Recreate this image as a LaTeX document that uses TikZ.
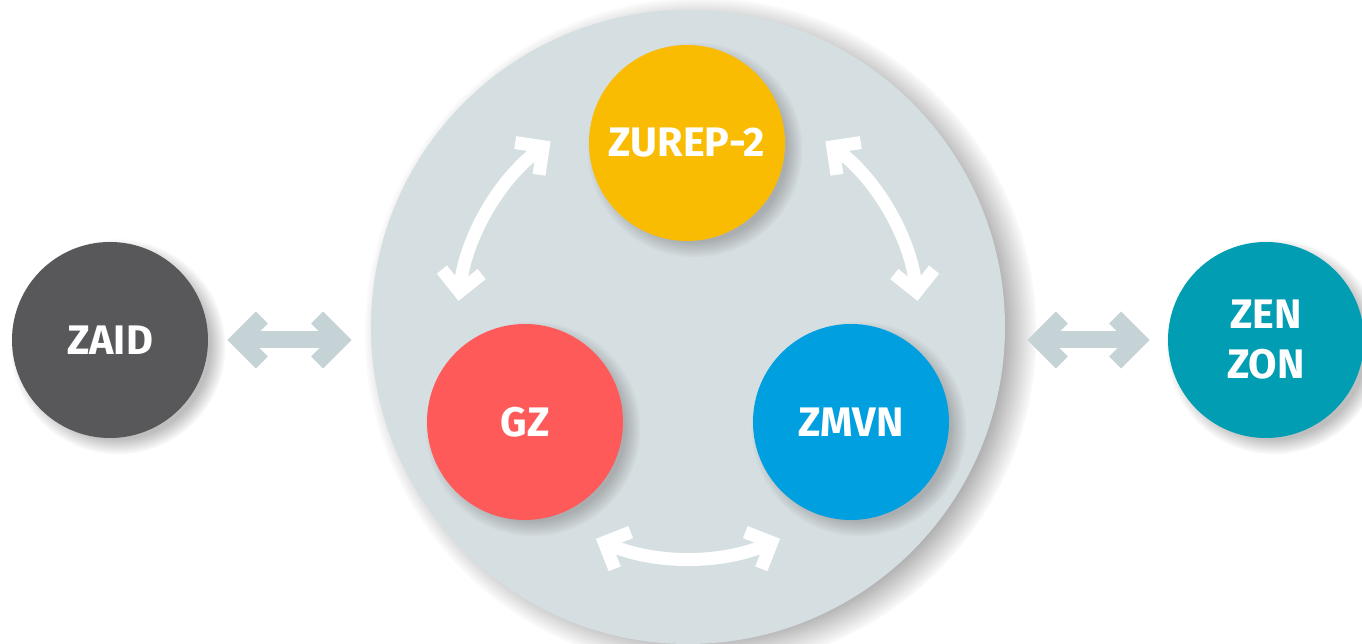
\documentclass[tikz,border=0pt]{standalone}
\usepackage{fontspec}
\setmainfont{Fira Sans}
\usetikzlibrary{arrows.meta,shadows,fadings}

\definecolor{hubgray}{HTML}{D5DEE1}
\definecolor{zaidgray}{HTML}{58585A}
\definecolor{zenteal}{HTML}{009DB3}
\definecolor{zurepyellow}{HTML}{FABC02}
\definecolor{gzred}{HTML}{FF5A5A}
\definecolor{zmvnblue}{HTML}{009FE0}
\definecolor{sidegray}{HTML}{C5D3D6}

\tikzset{
  unit/.style={circle,minimum size=3.92cm,inner sep=0pt,text=white,align=center,
    font=\fontsize{23.5}{28.5}\selectfont\bfseries,
    circular drop shadow={shadow xshift=0.14cm,shadow yshift=-0.12cm,shadow scale=1.1,opacity=0.5}},
  link/.style={white,line width=0.26cm,
    {Straight Barb[length=0.4cm,width=0.8cm]}-{Straight Barb[length=0.4cm,width=0.8cm]}},
  sidelink/.style={sidegray,line width=0.34cm,
    {Straight Barb[length=0.45cm,width=0.9cm]}-{Straight Barb[length=0.45cm,width=0.9cm]}},
}

\begin{document}
\begin{tikzpicture}
    \fill[white] (0,0) rectangle (27.24,12.88);
    \useasboundingbox (0,0) rectangle (27.24,12.88);
    % shared hub
    \node[circle,fill=hubgray,minimum size=12.68cm,inner sep=0pt,
      circular drop shadow={shadow xshift=0.24cm,shadow yshift=-0.12cm,shadow scale=1.06,opacity=0.6,
        path fading=circle with fuzzy edge 10 percent}] (hub) at (13.76,6.34) {};
    % units
    \node[unit,fill=zaidgray] (zaid) at (2.2,6.08) {ZAID};
    \node[unit,fill=zenteal] (zen) at (25.32,6.08) {ZEN\\ZON};
    \node[unit,fill=zurepyellow] (zurep) at (13.74,10.02) {ZUREP-2};
    \node[unit,fill=gzred] (gz) at (10.5,4.44) {GZ};
    \node[unit,fill=zmvnblue] (zmvn) at (17.02,4.44) {ZMVN};
    % links inside the hub
    \draw[link] ([shift={(126.5:4.62)}]hub.center) arc[start angle=126.5,end angle=173.5,radius=4.62];
    \draw[link] ([shift={(246.5:4.62)}]hub.center) arc[start angle=246.5,end angle=293.5,radius=4.62];
    \draw[link] ([shift={(6.5:4.62)}]hub.center) arc[start angle=6.5,end angle=53.5,radius=4.62];
    % links to the outside
    \draw[sidelink] ([xshift=0.38cm]zaid.east) -- ([xshift=-0.38cm]zaid.east -| hub.west);
    \draw[sidelink] ([xshift=0.44cm]zen.west -| hub.east) -- ([xshift=-0.36cm]zen.west);
\end{tikzpicture}
\end{document}
